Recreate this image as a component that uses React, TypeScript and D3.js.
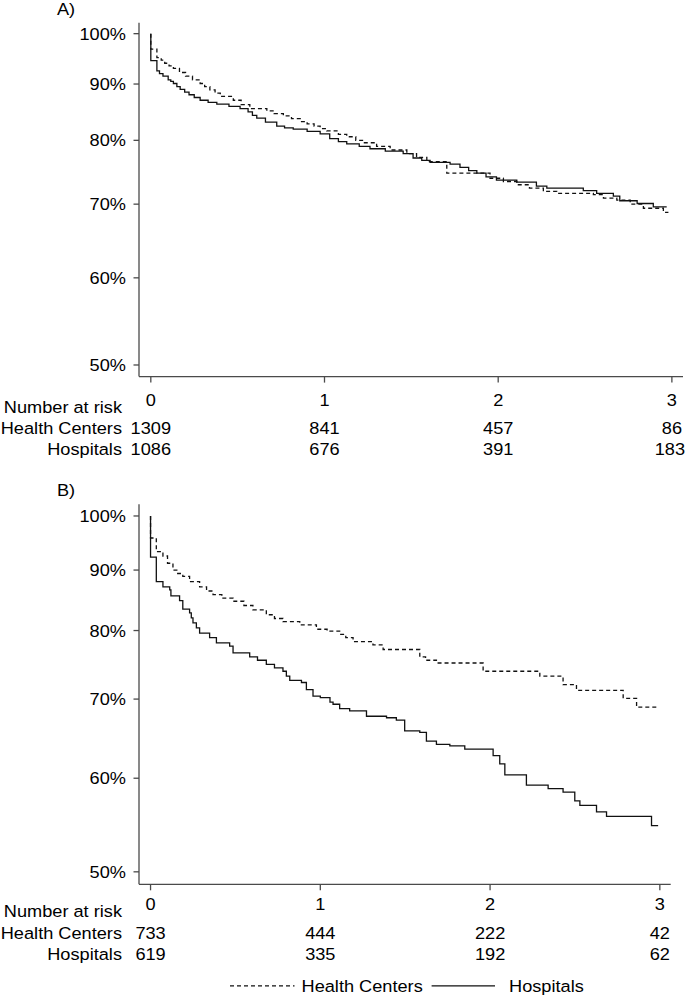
import React from "react";
import * as d3 from "d3";

// ---- data ----
const ticksX = [0, 1, 2, 3];
const ticksY = [0.5, 0.6, 0.7, 0.8, 0.9, 1.0];
const groups = ["Health Centers", "Hospitals"];

const riskA_health = [1309, 841, 457, 86];
const riskA_hosp = [1086, 676, 391, 183];
const riskB_health = [733, 444, 222, 42];
const riskB_hosp = [619, 335, 192, 62];

const kmA_health: [number, number][] = [[0,1],[0,0.968],[0.035,0.951],[0.06,0.946],[0.08,0.94],[0.105,0.935],[0.13,0.93],[0.165,0.922],[0.2,0.915],[0.24,0.908],[0.284,0.901],[0.31,0.895],[0.34,0.889],[0.37,0.883],[0.4,0.877],[0.475,0.87],[0.52,0.862],[0.57,0.855],[0.668,0.851],[0.71,0.846],[0.763,0.842],[0.81,0.837],[0.86,0.832],[0.9,0.828],[0.94,0.824],[0.975,0.82],[1.013,0.816],[1.08,0.81],[1.128,0.806],[1.18,0.8],[1.224,0.796],[1.3,0.79],[1.378,0.784],[1.474,0.778],[1.53,0.772],[1.589,0.765],[1.704,0.747],[1.953,0.739],[2.03,0.734],[2.107,0.729],[2.18,0.724],[2.26,0.719],[2.337,0.716],[2.548,0.714],[2.606,0.709],[2.683,0.706],[2.76,0.7],[2.836,0.694],[2.951,0.688],[2.98,0.688]];
const kmA_hosp: [number, number][] = [[0,1],[0,0.945],[0.035,0.925],[0.05,0.92],[0.07,0.915],[0.1,0.908],[0.115,0.905],[0.13,0.901],[0.15,0.895],[0.169,0.89],[0.195,0.885],[0.22,0.88],[0.25,0.875],[0.284,0.87],[0.33,0.866],[0.38,0.863],[0.45,0.859],[0.514,0.855],[0.56,0.849],[0.585,0.843],[0.61,0.838],[0.66,0.831],[0.725,0.824],[0.77,0.821],[0.82,0.819],[0.9,0.815],[0.975,0.811],[1.03,0.803],[1.08,0.798],[1.128,0.794],[1.2,0.79],[1.262,0.786],[1.35,0.782],[1.453,0.778],[1.51,0.771],[1.56,0.767],[1.608,0.764],[1.723,0.761],[1.78,0.756],[1.83,0.751],[1.877,0.747],[1.93,0.741],[1.99,0.736],[2.107,0.733],[2.22,0.727],[2.28,0.724],[2.49,0.72],[2.567,0.716],[2.663,0.712],[2.7,0.705],[2.8,0.701],[2.893,0.696],[2.97,0.696]];
const kmB_health: [number, number][] = [[0,1],[0,0.958],[0.034,0.933],[0.073,0.925],[0.1,0.912],[0.132,0.9],[0.16,0.894],[0.19,0.889],[0.23,0.88],[0.289,0.871],[0.33,0.864],[0.368,0.858],[0.42,0.852],[0.486,0.847],[0.55,0.84],[0.603,0.833],[0.682,0.825],[0.73,0.819],[0.78,0.814],[0.879,0.809],[0.977,0.802],[1.04,0.799],[1.114,0.794],[1.15,0.789],[1.193,0.783],[1.31,0.778],[1.37,0.771],[1.586,0.76],[1.62,0.755],[1.684,0.751],[1.959,0.739],[2.293,0.732],[2.43,0.72],[2.509,0.712],[2.784,0.701],[2.863,0.689],[2.98,0.689]];
const kmB_hosp: [number, number][] = [[0,1],[0,0.923],[0.034,0.88],[0.073,0.871],[0.113,0.866],[0.12,0.856],[0.171,0.848],[0.19,0.834],[0.23,0.828],[0.24,0.82],[0.25,0.812],[0.27,0.804],[0.289,0.796],[0.348,0.789],[0.388,0.781],[0.466,0.776],[0.486,0.766],[0.584,0.76],[0.63,0.755],[0.682,0.749],[0.73,0.744],[0.78,0.739],[0.8,0.732],[0.82,0.726],[0.889,0.723],[0.918,0.713],[0.957,0.704],[1.0,0.702],[1.057,0.696],[1.075,0.693],[1.114,0.687],[1.173,0.684],[1.272,0.677],[1.39,0.675],[1.448,0.672],[1.497,0.658],[1.586,0.656],[1.625,0.645],[1.684,0.641],[1.763,0.639],[1.851,0.635],[2.018,0.627],[2.057,0.617],[2.087,0.604],[2.214,0.592],[2.342,0.588],[2.43,0.584],[2.499,0.574],[2.529,0.569],[2.627,0.562],[2.686,0.557],[2.951,0.547],[2.99,0.547]];

// ---- styling ----
const FONT = "'Liberation Sans', Arial, Helvetica, sans-serif";
const FS = 17;
const SX = 1.07;
const AXIS = "#4a4a4a";
const DASH = "4,3";

function T({ x, y, anchor = "start", children }: any) {
  return (
    <text
      transform={`translate(${x},${y}) scale(${SX},1)`}
      textAnchor={anchor}
      fontFamily={FONT}
      fontSize={FS}
      fill="#000"
    >
      {children}
    </text>
  );
}

type PanelProps = {
  label: string;
  labelY: number;
  top: number;
  bottom: number;
  right: number;
  health: [number, number][];
  hosp: [number, number][];
  riskH: number[];
  riskP: number[];
  tickBase: number;
  narBase: number;
  row1: number;
  row2: number;
};

function Panel(p: PanelProps) {
  const left = 139;
  const x = d3.scaleLinear().domain([-0.068, 3.064]).range([left, p.right]);
  const y = d3.scaleLog().domain([0.488, 1.023]).range([p.bottom, p.top]);
  const line = d3
    .line<[number, number]>()
    .x((d) => x(d[0]))
    .y((d) => y(d[1]))
    .curve(d3.curveStepAfter);
  const charW = 0.556 * FS * SX;
  const numX = (v: number, tx: number) => {
    const w = String(v).length * charW;
    return Math.min(tx, 685 - w / 2);
  };
  return (
    <g>
      <T x={57} y={p.labelY}>{p.label}</T>
      {/* axes */}
      <line x1={left} x2={left} y1={p.top} y2={p.bottom} stroke={AXIS} strokeWidth={1.3} />
      <line x1={left} x2={p.right} y1={p.bottom} y2={p.bottom} stroke={AXIS} strokeWidth={1.3} />
      {ticksY.map((t) => (
        <g key={t}>
          <line x1={left - 5.5} x2={left} y1={y(t)} y2={y(t)} stroke={AXIS} strokeWidth={1.3} />
          <T x={126} y={y(t) + 6.1} anchor="end">{d3.format(".0%")(t)}</T>
        </g>
      ))}
      {ticksX.map((t, i) => (
        <g key={t}>
          <line x1={x(t)} x2={x(t)} y1={p.bottom} y2={p.bottom + 6} stroke={AXIS} strokeWidth={1.3} />
          <T x={x(t)} y={p.tickBase} anchor="middle">{t}</T>
          <T x={numX(p.riskH[i], x(t))} y={p.row1} anchor="middle">{p.riskH[i]}</T>
          <T x={numX(p.riskP[i], x(t))} y={p.row2} anchor="middle">{p.riskP[i]}</T>
        </g>
      ))}
      <T x={122} y={p.narBase} anchor="end">Number at risk</T>
      <T x={122} y={p.row1} anchor="end">{groups[0]}</T>
      <T x={122} y={p.row2} anchor="end">{groups[1]}</T>
      {/* curves */}
      <path d={line(p.health) || ""} fill="none" stroke="#111" strokeWidth={1.3} strokeDasharray={DASH} />
      <path d={line(p.hosp) || ""} fill="none" stroke="#111" strokeWidth={1.3} />
    </g>
  );
}

export default function App() {
  const legY = 985.8;
  return (
    <div style={{ position: "absolute", left: 0, top: 0, width: 687, height: 997, background: "#fff" }}>
      <svg width={687} height={997} style={{ display: "block" }}>
        <rect width={687} height={997} fill="#fff" />
        <Panel
          label="A)"
          labelY={14.5}
          top={22.8}
          bottom={376.6}
          right={683}
          health={kmA_health}
          hosp={kmA_hosp}
          riskH={riskA_health}
          riskP={riskA_hosp}
          tickBase={405.7}
          narBase={412.7}
          row1={434.3}
          row2={455}
        />
        <Panel
          label="B)"
          labelY={496}
          top={504.3}
          bottom={884.3}
          right={670.7}
          health={kmB_health}
          hosp={kmB_hosp}
          riskH={riskB_health}
          riskP={riskB_hosp}
          tickBase={910}
          narBase={917}
          row1={939.3}
          row2={960}
        />
        {/* legend */}
        <line x1={230} x2={294.5} y1={legY} y2={legY} stroke="#111" strokeWidth={1.2} strokeDasharray={DASH} />
        <T x={301.5} y={991.7}>{groups[0]}</T>
        <line x1={431.6} x2={495} y1={legY} y2={legY} stroke="#111" strokeWidth={1.2} />
        <T x={509} y={991.7}>{groups[1]}</T>
      </svg>
    </div>
  );
}
